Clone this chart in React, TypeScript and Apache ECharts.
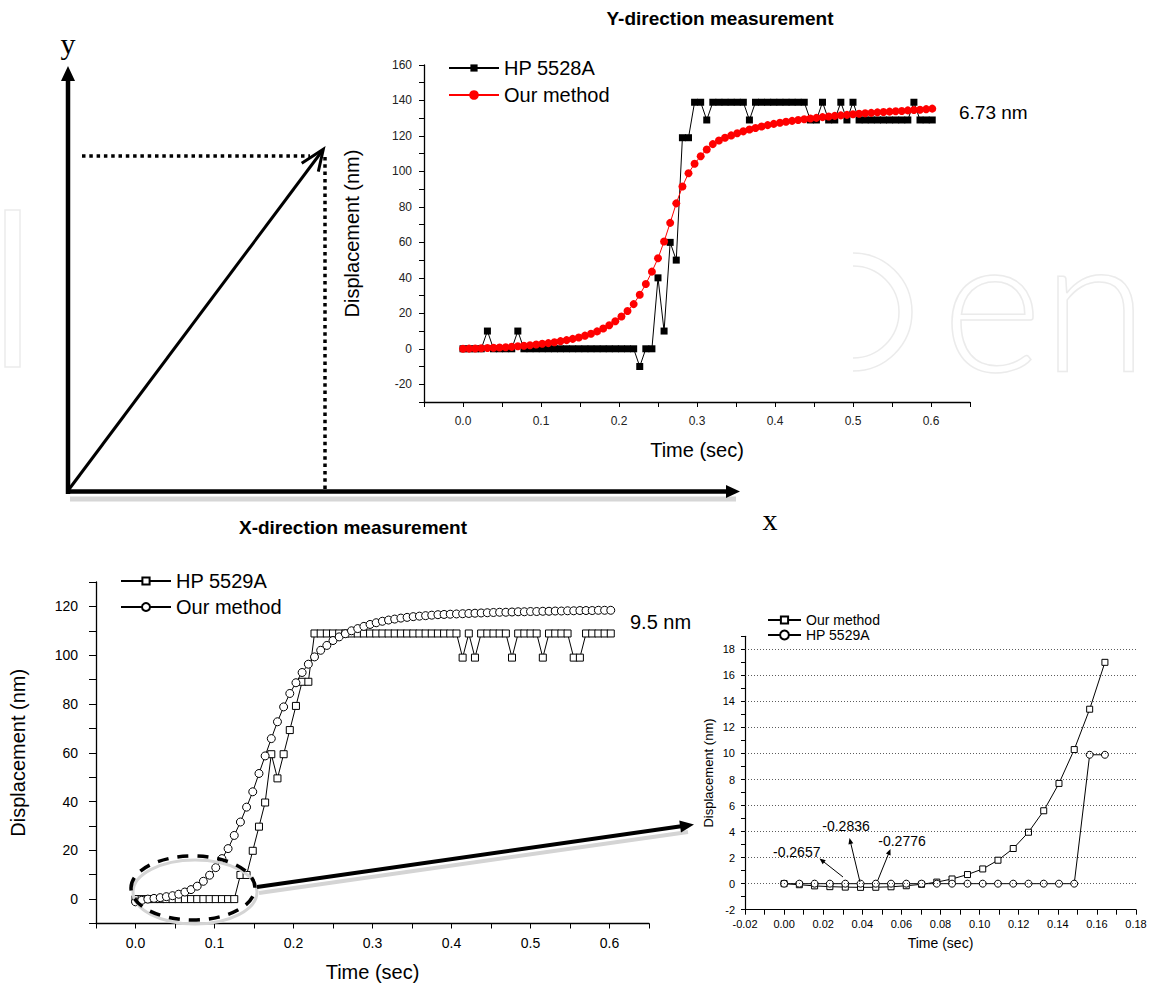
import React, { useEffect, useRef } from 'react';
import * as echarts from 'echarts';

// Sampling instants (s) shared by every panel: 1/128 s steps
const TIME = [
  0, 0.0078, 0.0156, 0.0234, 0.0313, 0.0391, 0.0469, 0.0547, 0.0625, 0.0703,
  0.0781, 0.0859, 0.0938, 0.1016, 0.1094, 0.1172, 0.125, 0.1328, 0.1406, 0.1484,
  0.1563, 0.1641, 0.1719, 0.1797, 0.1875, 0.1953, 0.2031, 0.2109, 0.2188, 0.2266,
  0.2344, 0.2422, 0.25, 0.2578, 0.2656, 0.2734, 0.2813, 0.2891, 0.2969, 0.3047,
  0.3125, 0.3203, 0.3281, 0.3359, 0.3438, 0.3516, 0.3594, 0.3672, 0.375, 0.3828,
  0.3906, 0.3984, 0.4063, 0.4141, 0.4219, 0.4297, 0.4375, 0.4453, 0.4531, 0.4609,
  0.4688, 0.4766, 0.4844, 0.4922, 0.5, 0.5078, 0.5156, 0.5234, 0.5313, 0.5391,
  0.5469, 0.5547, 0.5625, 0.5703, 0.5781, 0.5859, 0.5938, 0.6016,
];

// Y-direction measurement (top panel)
const Y_HP5528A = [
  0, 0, 0, 0, 10, 0, 0, 0, 0, 10,
  0, 0, 0, 0, 0, 0, 0, 0, 0, 0,
  0, 0, 0, 0, 0, 0, 0, 0, 0, -10,
  0, 0, 40, 10, 60, 50, 119, 119, 139, 139,
  129, 139, 139, 139, 139, 139, 139, 129, 139, 139,
  139, 139, 139, 139, 139, 139, 139, 129, 129, 139,
  129, 129, 139, 129, 139, 129, 129, 129, 129, 129,
  129, 129, 129, 129, 139, 129, 129, 129,
];
const Y_OUR_METHOD = [
  0, 0.1, 0.2, 0.3, 0.4, 0.6, 0.7, 0.9, 1.1, 1.4,
  1.7, 2.0, 2.4, 2.8, 3.2, 3.7, 4.3, 4.9, 5.6, 6.4,
  7.4, 8.5, 9.8, 11.4, 13.3, 15.5, 18.2, 21.3, 25.2, 30.5,
  36.5, 43.5, 51, 60.5, 71, 82, 91.5, 99, 104.3, 108.6,
  112.4, 115.4, 117.4, 119, 120.3, 121.5, 122.6, 123.6, 124.5, 125.3,
  126.1, 126.8, 127.4, 128, 128.5, 129, 129.4, 129.8, 130.2, 130.6,
  131, 131.3, 131.6, 131.9, 132.2, 132.5, 132.8, 133, 133.3, 133.5,
  133.7, 133.9, 134.1, 134.4, 134.6, 134.8, 135.1, 135.4,
];

// X-direction measurement (bottom-left panel)
const X_HP5529A = [
  0, 0, 0, 0, 0, 0, 0, 0, 0, 0,
  0, 0, 0, 0, 0, 0, 0, 9.9, 9.9, 19.8,
  29.7, 39.6, 59.4, 49.5, 59.4, 69.3, 79.2, 89.1, 89.1, 108.9,
  108.9, 108.9, 108.9, 108.9, 108.9, 108.9, 108.9, 108.9, 108.9, 108.9,
  108.9, 108.9, 108.9, 108.9, 108.9, 108.9, 108.9, 108.9, 108.9, 108.9,
  108.9, 108.9, 108.9, 99, 108.9, 99, 108.9, 108.9, 108.9, 108.9,
  108.9, 99, 108.9, 108.9, 108.9, 108.9, 99, 108.9, 108.9, 108.9,
  108.9, 99, 99, 108.9, 108.9, 108.9, 108.9, 108.9,
];
const X_OUR_METHOD = [
  -1.1, -0.5, 0, 0.3, 0.6, 1.0, 1.4, 2.0, 2.9, 3.9,
  5.3, 7.3, 9.8, 12.9, 16.6, 20.7, 26.1, 31.6, 37.7, 44,
  51.5, 58.7, 65.8, 72.7, 78.8, 84.3, 88.7, 92.9, 96.3, 99.3,
  102, 104, 106, 107.5, 108.8, 110, 110.9, 111.8, 112.6, 113.3,
  113.9, 114.4, 114.8, 115.2, 115.5, 115.8, 116, 116.2, 116.4, 116.6,
  116.7, 116.8, 116.9, 117, 117.1, 117.2, 117.3, 117.4, 117.5, 117.6,
  117.6, 117.7, 117.8, 117.8, 117.9, 117.9, 118, 118, 118.1, 118.1,
  118.2, 118.2, 118.3, 118.3, 118.3, 118.4, 118.4, 118.4,
];

// Zoomed start (bottom-right panel)
const ZOOM_OUR_METHOD = [
  0, -0.08, -0.17, -0.23, -0.2657, -0.2836, -0.2776, -0.24, -0.16, -0.05,
  0.12, 0.36, 0.7, 1.13, 1.8, 2.7, 3.95, 5.6, 7.7, 10.3, 13.4, 17.0,
];
const ZOOM_HP5529A = [
  0, 0, 0, 0, 0, 0, 0, 0, 0, 0,
  0, 0, 0, 0, 0, 0, 0, 0, 0, 0, 9.9, 9.9,
];
const ZOOM_GRID_LEVELS = [0, 2, 4, 6, 8, 10, 12, 14, 16, 18];

const FONT = '"Liberation Sans", Arial, Helvetica, sans-serif';
const SERIF = '"Liberation Serif", "Times New Roman", serif';

const pairs = (ys: number[]) => ys.map((v, i) => [TIME[i], v]);

const stripZw = (name: string) => name.replace(/\u200b/g, '');

function arrow(x1: number, y1: number, x2: number, y2: number, width: number, headLen: number, headHalf: number, color: string, z: number) {
  const dx = x2 - x1;
  const dy = y2 - y1;
  const L = Math.hypot(dx, dy);
  const ux = dx / L;
  const uy = dy / L;
  const bx = x2 - ux * headLen;
  const by = y2 - uy * headLen;
  const px = -uy;
  const py = ux;
  return [
    { type: 'line', z, shape: { x1, y1, x2: bx + ux, y2: by + uy }, style: { stroke: color, lineWidth: width } },
    {
      type: 'polygon', z,
      shape: { points: [[x2, y2], [bx + px * headHalf, by + py * headHalf], [bx - px * headHalf, by - py * headHalf]] },
      style: { fill: color },
    },
  ];
}

function valueAxis(o: any) {
  return {
    type: 'value',
    gridIndex: o.grid,
    min: o.min,
    max: o.max,
    interval: o.interval,
    name: o.name,
    nameLocation: 'middle',
    nameGap: o.nameGap,
    nameRotate: o.nameRotate,
    nameMoveOverlap: false,
    nameTextStyle: { fontSize: o.nameSize, color: '#000', fontFamily: FONT },
    axisLine: { show: true, onZero: false, lineStyle: { color: '#000', width: o.lw ?? 1.3 } },
    axisTick: { show: true, inside: false, length: o.tick ?? 5, lineStyle: { color: '#000', width: 1 } },
    minorTick: { show: false },
    splitLine: { show: false },
    axisLabel: {
      show: true,
      fontSize: o.labelSize,
      color: o.labelColor ?? '#000',
      fontFamily: FONT,
      margin: o.margin,
      formatter: o.fmt,
      hideOverlap: false,
    },
  };
}

const fmtStep = (step: number, digits: number, maxLabel?: number) => (v: number) => {
  const k = Math.round(v / step);
  if (Math.abs(v / step - k) > 1e-6) return '';
  const val = k * step;
  if (maxLabel !== undefined && val > maxLabel + 1e-9) return '';
  return val.toFixed(digits);
};
const fmtNonNeg = (step: number, digits: number) => (v: number) => (v < -1e-9 ? '' : fmtStep(step, digits)(v));

function buildOption() {
  const legendCommon = (size: number) => ({
    orient: 'vertical',
    padding: 0,
    selectedMode: false,
    formatter: stripZw,
    textStyle: { fontSize: size, color: '#000', fontFamily: FONT },
  });

  const graphics: any[] = [];
  const WM = '#ebebeb';

  // faint watermark (drawn as outlines)
  graphics.push(
    { type: 'rect', z: 0, shape: { x: 5, y: 210, width: 15, height: 157 }, style: { fill: 'none', stroke: WM, lineWidth: 1.5 } },
    { type: 'arc', z: 0, shape: { cx: 853, cy: 312, r: 59, startAngle: -Math.PI / 2, endAngle: Math.PI / 2 }, style: { fill: 'none', stroke: WM, lineWidth: 1.5 } },
    { type: 'arc', z: 0, shape: { cx: 853, cy: 312, r: 46, startAngle: -Math.PI / 2, endAngle: Math.PI / 2 }, style: { fill: 'none', stroke: WM, lineWidth: 1.5 } },
    {
      type: 'text', z: 0, x: 942, y: 297,
      style: { text: 'en', fontSize: 192, fontFamily: 'Lato, ' + FONT, fontWeight: 300, fill: 'none', stroke: WM, lineWidth: 1.5, verticalAlign: 'middle', align: 'left' },
    },
  );

  // vector diagram
  graphics.push(
    { type: 'line', z: 5, shape: { x1: 70, y1: 499, x2: 736, y2: 499 }, style: { stroke: '#d6d6d6', lineWidth: 5 } },
    ...arrow(68, 494, 68, 66, 4.5, 15, 7, '#000', 10),
    ...arrow(66, 491.5, 740, 491.5, 4.5, 14, 6.5, '#000', 10),
    { type: 'line', z: 10, shape: { x1: 68.5, y1: 490, x2: 322.5, y2: 150.5 }, style: { stroke: '#000', lineWidth: 3 } },
    { type: 'polyline', z: 10, shape: { points: [[301.7, 163.3], [323.3, 149.3], [318.3, 171.7]] }, style: { stroke: '#000', lineWidth: 3, fill: 'none' } },
    { type: 'line', z: 10, shape: { x1: 82, y1: 156, x2: 310, y2: 156 }, style: { stroke: '#000', lineWidth: 3.5, lineDash: [3.5, 3.8] } },
    { type: 'line', z: 10, shape: { x1: 325, y1: 157, x2: 325, y2: 490 }, style: { stroke: '#000', lineWidth: 3.5, lineDash: [3.5, 3.8] } },
    { type: 'text', z: 10, x: 68, y: 43, style: { text: 'y', fontSize: 30, fontFamily: SERIF, fill: '#000', align: 'center', verticalAlign: 'middle' } },
    { type: 'text', z: 10, x: 770, y: 519, style: { text: 'x', fontSize: 30, fontFamily: SERIF, fill: '#000', align: 'center', verticalAlign: 'middle' } },
    { type: 'text', z: 10, x: 353, y: 527, style: { text: 'X-direction measurement', fontSize: 19, fontWeight: 'bold', fontFamily: FONT, fill: '#000', align: 'center', verticalAlign: 'middle' } },
    { type: 'text', z: 10, x: 720, y: 18, style: { text: 'Y-direction measurement', fontSize: 19, fontWeight: 'bold', fontFamily: FONT, fill: '#000', align: 'center', verticalAlign: 'middle' } },
    { type: 'text', z: 10, x: 959, y: 112, style: { text: '6.73 nm', fontSize: 19, fontFamily: FONT, fill: '#000', align: 'left', verticalAlign: 'middle' } },
    { type: 'text', z: 10, x: 630, y: 622, style: { text: '9.5 nm', fontSize: 20, fontFamily: FONT, fill: '#000', align: 'left', verticalAlign: 'middle' } },
  );

  // ellipse + big arrow on bottom-left chart
  graphics.push(
    { type: 'ellipse', z: 20, shape: { cx: 195, cy: 892, rx: 62, ry: 32 }, style: { fill: 'none', stroke: '#d4d4d4', lineWidth: 3 } },
    { type: 'ellipse', z: 21, shape: { cx: 193, cy: 888, rx: 62, ry: 32 }, style: { fill: 'none', stroke: '#000', lineWidth: 3.5, lineDash: [11, 9] } },
    { type: 'line', z: 20, shape: { x1: 259, y1: 893, x2: 688, y2: 832 }, style: { stroke: '#d4d4d4', lineWidth: 4 } },
    ...arrow(257, 887, 694, 824.5, 4, 14, 6, '#000', 21),
  );

  // annotations on the zoomed chart
  graphics.push(
    { type: 'text', z: 20, x: 796.7, y: 851.7, style: { text: '-0.2657', fontSize: 14, fontFamily: FONT, fill: '#000', align: 'center', verticalAlign: 'middle' } },
    ...arrow(843, 877, 819.5, 858.5, 1, 6, 2.5, '#000', 20),
    { type: 'text', z: 20, x: 846, y: 826, style: { text: '-0.2836', fontSize: 14, fontFamily: FONT, fill: '#000', align: 'center', verticalAlign: 'middle' } },
    ...arrow(860, 882, 849.5, 838, 1, 6, 2.5, '#000', 20),
    { type: 'text', z: 20, x: 902, y: 840.7, style: { text: '-0.2776', fontSize: 14, fontFamily: FONT, fill: '#000', align: 'center', verticalAlign: 'middle' } },
    ...arrow(877.5, 881, 890.5, 849, 1, 6, 2.5, '#000', 20),
  );

  const hollow = { color: '#fff', borderColor: '#000', borderWidth: 1 };

  return {
    animation: false,
    backgroundColor: '#fff',
    textStyle: { fontFamily: FONT },
    grid: [
      { left: 424, top: 65, width: 546, height: 337, containLabel: false, outerBoundsMode: 'none' },
      { left: 96, top: 582, width: 553, height: 341.5, containLabel: false, outerBoundsMode: 'none' },
      { left: 745, top: 636.3, width: 391, height: 273.4, containLabel: false, outerBoundsMode: 'none' },
    ],
    xAxis: [
      valueAxis({ grid: 0, min: -0.05, max: 0.65, interval: 0.05, name: 'Time (sec)', nameGap: 38, nameSize: 20, labelSize: 12, labelColor: '#222', margin: 13, tick: 5, fmt: fmtNonNeg(0.1, 1) }),
      valueAxis({ grid: 1, min: -0.05, max: 0.65, interval: 0.05, name: 'Time (sec)', nameGap: 38, nameSize: 20, labelSize: 14, margin: 12, tick: 5, fmt: fmtNonNeg(0.1, 1) }),
      valueAxis({ grid: 2, min: -0.02, max: 0.18, interval: 0.01, name: 'Time (sec)', nameGap: 26, nameSize: 14, labelSize: 11, margin: 9, tick: 5, lw: 1.2, fmt: fmtStep(0.02, 2) }),
    ],
    yAxis: [
      valueAxis({ grid: 0, min: -30, max: 160, interval: 10, name: 'Displacement (nm)', nameGap: 62, nameRotate: 90, nameSize: 20, labelSize: 12, labelColor: '#222', margin: 12, tick: 5, fmt: fmtStep(20, 0) }),
      valueAxis({ grid: 1, min: -10, max: 130, interval: 10, name: 'Displacement (nm)', nameGap: 68, nameRotate: 90, nameSize: 20, labelSize: 14, margin: 18, tick: 7, fmt: fmtStep(20, 0) }),
      valueAxis({ grid: 2, min: -2, max: 19, interval: 1, name: 'Displacement (nm)', nameGap: 30, nameRotate: 90, nameSize: 13, labelSize: 11, margin: 10, tick: 4, lw: 1.2, fmt: fmtStep(2, 0, 18) }),
    ],
    legend: [
      { ...legendCommon(20), data: ['HP 5528A'], left: 448, top: 58, itemWidth: 50, itemHeight: 9 },
      { ...legendCommon(20), data: ['Our method'], left: 448, top: 85, itemWidth: 50, itemHeight: 12 },
      { ...legendCommon(20), data: ['HP 5529A'], left: 120, top: 571, itemWidth: 50, itemHeight: 9 },
      { ...legendCommon(20), data: ['Our method\u200b'], left: 120, top: 597, itemWidth: 50, itemHeight: 10 },
      { ...legendCommon(14), data: ['Our method\u200b\u200b'], left: 767, top: 613, itemWidth: 33, itemHeight: 9 },
      { ...legendCommon(14), data: ['HP 5529A\u200b'], left: 767, top: 628, itemWidth: 33, itemHeight: 11 },
    ],
    series: [
      {
        name: 'HP 5528A', type: 'line', xAxisIndex: 0, yAxisIndex: 0, data: pairs(Y_HP5528A),
        symbol: 'rect', symbolSize: 7, showSymbol: true,
        lineStyle: { color: '#000', width: 1 }, itemStyle: { color: '#000' }, z: 2,
      },
      {
        name: 'Our method', type: 'line', xAxisIndex: 0, yAxisIndex: 0, data: pairs(Y_OUR_METHOD),
        symbol: 'circle', symbolSize: 8, showSymbol: true,
        lineStyle: { color: '#ff0000', width: 1 }, itemStyle: { color: '#ff0000' }, z: 3,
      },
      {
        name: 'HP 5529A', type: 'line', xAxisIndex: 1, yAxisIndex: 1, data: pairs(X_HP5529A),
        symbol: 'rect', symbolSize: 7, showSymbol: true,
        lineStyle: { color: '#000', width: 1 }, itemStyle: hollow, z: 2,
      },
      {
        name: 'Our method\u200b', type: 'line', xAxisIndex: 1, yAxisIndex: 1, data: pairs(X_OUR_METHOD),
        symbol: 'circle', symbolSize: 8, showSymbol: true,
        lineStyle: { color: '#000', width: 1 }, itemStyle: hollow, z: 3,
      },
      {
        name: 'gridlines', type: 'line', xAxisIndex: 2, yAxisIndex: 2, data: [], z: 1,
        markLine: {
          silent: true, symbol: ['none', 'none'], label: { show: false }, animation: false,
          lineStyle: { color: '#333', width: 0.8, type: [1, 2] },
          emphasis: { disabled: true },
          data: ZOOM_GRID_LEVELS.map((v) => ({ yAxis: v })),
        },
      },
      {
        name: 'Our method\u200b\u200b', type: 'line', xAxisIndex: 2, yAxisIndex: 2, data: pairs(ZOOM_OUR_METHOD),
        symbol: 'rect', symbolSize: 6, showSymbol: true,
        lineStyle: { color: '#000', width: 1 }, itemStyle: hollow, z: 2,
      },
      {
        name: 'HP 5529A\u200b', type: 'line', xAxisIndex: 2, yAxisIndex: 2, data: pairs(ZOOM_HP5529A),
        symbol: 'circle', symbolSize: 7, showSymbol: true,
        lineStyle: { color: '#000', width: 1 }, itemStyle: hollow, z: 3,
      },
    ],
    graphic: { elements: graphics },
  };
}

export default function App() {
  const ref = useRef<HTMLDivElement>(null);
  useEffect(() => {
    if (!ref.current) return;
    const chart = echarts.init(ref.current, null, { renderer: 'svg' });
    chart.setOption(buildOption() as any);
    return () => chart.dispose();
  }, []);
  return (
    <div
      ref={ref}
      style={{ position: 'absolute', left: 0, top: 0, width: 1154, height: 986, background: '#fff' }}
    />
  );
}
